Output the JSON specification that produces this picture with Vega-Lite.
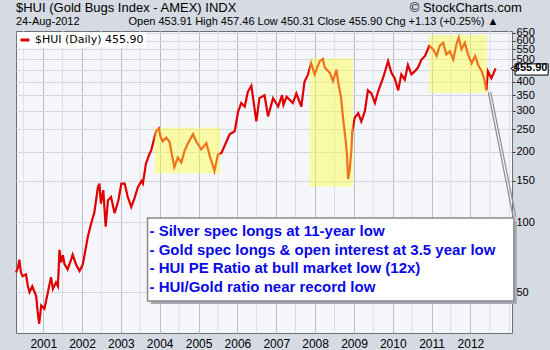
{
  "$schema": "https://vega.github.io/schema/vega-lite/v6.json",
  "width": 496,
  "height": 302,
  "autosize": {"type": "none"},
  "padding": {"left": 16, "top": 31, "right": 38, "bottom": 17},
  "background": "#d5dae3",
  "title": {
    "text": "$HUI (Gold Bugs Index - AMEX) INDX\u00a0\u00a0\u00a0\u00a0\u00a0\u00a0\u00a0\u00a0\u00a0\u00a0\u00a0\u00a0\u00a0\u00a0\u00a0\u00a0\u00a0\u00a0\u00a0\u00a0\u00a0\u00a0\u00a0\u00a0\u00a0\u00a0\u00a0\u00a0\u00a0\u00a0\u00a0\u00a0\u00a0\u00a0\u00a0\u00a0\u00a0\u00a0\u00a0\u00a0\u00a0\u00a0\u00a0\u00a0\u00a0\u00a0\u00a0\u00a0© StockCharts.com",
    "subtitle": "24-Aug-2012\u00a0\u00a0\u00a0\u00a0\u00a0\u00a0\u00a0\u00a0\u00a0\u00a0\u00a0\u00a0\u00a0\u00a0\u00a0\u00a0Open 453.91 High 457.46 Low 450.31 Close 455.90 Chg +1.13 (+0.25%) ▲",
    "anchor": "start",
    "frame": "group",
    "offset": 0,
    "font": "Liberation Sans",
    "fontSize": 13,
    "fontWeight": "normal",
    "color": "#000000",
    "subtitleFont": "Liberation Sans",
    "subtitleFontSize": 11,
    "subtitleColor": "#000000",
    "subtitlePadding": 1
  },
  "config": {
    "view": {"fill": "#f5f6fa", "stroke": "#6b6f78", "strokeWidth": 1},
    "legend": {
      "orient": "top-left",
      "offset": 1,
      "padding": 2,
      "fillColor": "#ffffff",
      "symbolType": "stroke",
      "symbolStrokeColor": "#000000",
      "symbolStrokeWidth": 3,
      "symbolSize": 80,
      "labelFont": "DejaVu Sans",
      "labelFontSize": 11,
      "labelColor": "#000000",
      "title": null
    }
  },
  "datasets": {
    "hui": [
      {"date": "2000-04-20", "v": 60.8}, {"date": "2000-05-10", "v": 64}, {"date": "2000-05-22", "v": 69}, {"date": "2000-06-05", "v": 61}, {"date": "2000-06-20", "v": 58.5},
      {"date": "2000-07-23", "v": 59.6}, {"date": "2000-08-10", "v": 53}, {"date": "2000-08-25", "v": 50}, {"date": "2000-09-20", "v": 53},
      {"date": "2000-10-27", "v": 48}, {"date": "2000-11-10", "v": 41}, {"date": "2000-11-24", "v": 36.6}, {"date": "2000-12-13", "v": 43.8},
      {"date": "2001-01-12", "v": 42.4}, {"date": "2001-02-14", "v": 50}, {"date": "2001-03-15", "v": 58},
      {"date": "2001-04-02", "v": 51.6}, {"date": "2001-05-01", "v": 55}, {"date": "2001-05-19", "v": 53},
      {"date": "2001-06-03", "v": 76}, {"date": "2001-06-18", "v": 67}, {"date": "2001-07-05", "v": 72}, {"date": "2001-07-20", "v": 66},
      {"date": "2001-08-18", "v": 62.6}, {"date": "2001-09-20", "v": 69}, {"date": "2001-10-05", "v": 72.5},
      {"date": "2001-11-06", "v": 65.7}, {"date": "2001-12-09", "v": 61.6}, {"date": "2002-01-08", "v": 65.7},
      {"date": "2002-01-23", "v": 71.6}, {"date": "2002-02-25", "v": 86.6}, {"date": "2002-03-29", "v": 99},
      {"date": "2002-04-27", "v": 110}, {"date": "2002-05-30", "v": 141}, {"date": "2002-06-13", "v": 146},
      {"date": "2002-06-28", "v": 120}, {"date": "2002-07-20", "v": 137}, {"date": "2002-08-11", "v": 95.5},
      {"date": "2002-09-02", "v": 124}, {"date": "2002-10-01", "v": 128}, {"date": "2002-11-03", "v": 109},
      {"date": "2002-12-09", "v": 124}, {"date": "2003-01-05", "v": 146}, {"date": "2003-02-06", "v": 146},
      {"date": "2003-03-07", "v": 128}, {"date": "2003-04-09", "v": 116}, {"date": "2003-05-08", "v": 126},
      {"date": "2003-06-10", "v": 141}, {"date": "2003-07-13", "v": 150}, {"date": "2003-07-27", "v": 146},
      {"date": "2003-08-25", "v": 178}, {"date": "2003-09-27", "v": 196}, {"date": "2003-10-12", "v": 202},
      {"date": "2003-11-28", "v": 245}, {"date": "2003-12-24", "v": 252}, {"date": "2004-01-10", "v": 232}, {"date": "2004-01-30", "v": 222},
      {"date": "2004-03-03", "v": 230}, {"date": "2004-04-01", "v": 222}, {"date": "2004-05-18", "v": 172},
      {"date": "2004-06-20", "v": 189}, {"date": "2004-07-23", "v": 180}, {"date": "2004-08-22", "v": 202},
      {"date": "2004-09-24", "v": 218}, {"date": "2004-11-10", "v": 238}, {"date": "2004-12-09", "v": 222},
      {"date": "2005-01-26", "v": 205}, {"date": "2005-03-15", "v": 218}, {"date": "2005-04-16", "v": 192},
      {"date": "2005-05-30", "v": 166}, {"date": "2005-07-02", "v": 195}, {"date": "2005-08-04", "v": 198},
      {"date": "2005-09-21", "v": 222}, {"date": "2005-10-20", "v": 238}, {"date": "2005-12-06", "v": 245},
      {"date": "2006-01-08", "v": 298}, {"date": "2006-02-06", "v": 324}, {"date": "2006-03-11", "v": 313},
      {"date": "2006-04-09", "v": 362}, {"date": "2006-05-12", "v": 385}, {"date": "2006-06-28", "v": 270},
      {"date": "2006-07-27", "v": 340}, {"date": "2006-09-13", "v": 350}, {"date": "2006-10-16", "v": 284},
      {"date": "2006-12-02", "v": 340}, {"date": "2007-01-19", "v": 313}, {"date": "2007-02-25", "v": 350}, {"date": "2007-03-10", "v": 318}, {"date": "2007-04-09", "v": 345},
      {"date": "2007-06-06", "v": 324}, {"date": "2007-07-09", "v": 356}, {"date": "2007-08-25", "v": 313},
      {"date": "2007-09-24", "v": 400}, {"date": "2007-10-27", "v": 430}, {"date": "2007-11-25", "v": 480},
      {"date": "2007-12-28", "v": 430}, {"date": "2008-02-14", "v": 490}, {"date": "2008-03-14", "v": 500},
      {"date": "2008-04-01", "v": 460}, {"date": "2008-05-19", "v": 436}, {"date": "2008-06-18", "v": 402},
      {"date": "2008-07-20", "v": 450}, {"date": "2008-08-04", "v": 402}, {"date": "2008-09-02", "v": 340},
      {"date": "2008-09-20", "v": 280}, {"date": "2008-10-16", "v": 222}, {"date": "2008-10-27", "v": 195},
      {"date": "2008-11-06", "v": 153}, {"date": "2008-11-21", "v": 166}, {"date": "2008-12-09", "v": 208},
      {"date": "2008-12-16", "v": 245}, {"date": "2009-01-08", "v": 280}, {"date": "2009-02-10", "v": 293},
      {"date": "2009-03-11", "v": 270}, {"date": "2009-04-13", "v": 298}, {"date": "2009-05-12", "v": 367},
      {"date": "2009-06-14", "v": 356}, {"date": "2009-07-17", "v": 324}, {"date": "2009-08-15", "v": 362},
      {"date": "2009-10-01", "v": 414}, {"date": "2009-11-18", "v": 490}, {"date": "2009-12-20", "v": 436},
      {"date": "2010-01-19", "v": 414}, {"date": "2010-02-21", "v": 367}, {"date": "2010-03-22", "v": 430},
      {"date": "2010-04-24", "v": 408}, {"date": "2010-05-23", "v": 472}, {"date": "2010-06-25", "v": 430},
      {"date": "2010-07-28", "v": 444}, {"date": "2010-08-26", "v": 460}, {"date": "2010-09-28", "v": 498},
      {"date": "2010-10-31", "v": 516}, {"date": "2010-12-10", "v": 570}, {"date": "2011-01-15", "v": 552},
      {"date": "2011-02-17", "v": 516}, {"date": "2011-03-18", "v": 570}, {"date": "2011-04-20", "v": 588},
      {"date": "2011-05-19", "v": 524}, {"date": "2011-06-21", "v": 540}, {"date": "2011-07-24", "v": 498},
      {"date": "2011-08-22", "v": 578}, {"date": "2011-09-13", "v": 618}, {"date": "2011-10-09", "v": 552},
      {"date": "2011-11-10", "v": 588}, {"date": "2011-12-09", "v": 524}, {"date": "2012-01-12", "v": 480},
      {"date": "2012-02-14", "v": 516}, {"date": "2012-03-14", "v": 472}, {"date": "2012-04-16", "v": 444},
      {"date": "2012-05-08", "v": 414}, {"date": "2012-05-30", "v": 367}, {"date": "2012-06-13", "v": 444},
      {"date": "2012-07-16", "v": 414}, {"date": "2012-08-07", "v": 436}, {"date": "2012-08-24", "v": 455.9}
    ],
    "halfgrid": [
      {"date": "2000-07-01"}, {"date": "2001-07-01"}, {"date": "2002-07-01"}, {"date": "2003-07-01"},
      {"date": "2004-07-01"}, {"date": "2005-07-01"}, {"date": "2006-07-01"}, {"date": "2007-07-01"},
      {"date": "2008-07-01"}, {"date": "2009-07-01"}, {"date": "2010-07-01"}, {"date": "2011-07-01"},
      {"date": "2012-07-01"}, {"date": "2013-01-01"}
    ],
    "boxes": [
      {"start": "2003-11-14", "end": "2005-07-24", "top": 254, "bottom": 162},
      {"start": "2007-11-10", "end": "2008-12-24", "top": 504, "bottom": 142},
      {"start": "2010-12-09", "end": "2012-06-02", "top": 635, "bottom": 359}
    ],
    "callout": [
      {"start": "2012-06-17", "end": "2013-02-06", "top": 361, "bottom": 105},
      {"start": "2012-07-10", "end": "2013-03-03", "top": 361, "bottom": 105}
    ],
    "shadow": [
      {"start": "2003-10-08", "end": "2013-03-14", "top": 101, "bottom": 44.5}
    ],
    "notebox": [
      {"start": "2003-09-09", "end": "2013-02-13", "top": 104, "bottom": 45.8}
    ],
    "notes": [
      {"date": "2003-09-27", "v": 91.3, "label": "- Silver spec longs at 11-year low"},
      {"date": "2003-09-27", "v": 75.7, "label": "- Gold spec longs & open interest at 3.5 year low"},
      {"date": "2003-09-27", "v": 63.4, "label": "- HUI PE Ratio at bull market low (12x)"},
      {"date": "2003-09-27", "v": 52.5, "label": "- HUI/Gold ratio near record low"}
    ],
    "marker": [
      {"start": "2013-02-24", "end": "2014-01-01", "top": 477, "bottom": 427, "date": "2013-07-20", "tip": "2013-02-10", "v": 455.9, "label": "455.90"}
    ]
  },
  "layer": [
    {
      "data": {"name": "halfgrid"},
      "mark": {"type": "rule", "color": "#dcdee5", "strokeWidth": 1},
      "encoding": {
        "x": {
          "field": "date", "type": "temporal", "title": null,
          "scale": {"type": "utc", "domain": [{"year": 2000, "month": 4, "date": 20, "utc": true}, {"year": 2013, "month": 1, "date": 26, "utc": true}]},
          "axis": {
            "values": [
              {"year": 2001, "month": 1, "date": 1, "utc": true}, {"year": 2002, "month": 1, "date": 1, "utc": true},
              {"year": 2003, "month": 1, "date": 1, "utc": true}, {"year": 2004, "month": 1, "date": 1, "utc": true},
              {"year": 2005, "month": 1, "date": 1, "utc": true}, {"year": 2006, "month": 1, "date": 1, "utc": true},
              {"year": 2007, "month": 1, "date": 1, "utc": true}, {"year": 2008, "month": 1, "date": 1, "utc": true},
              {"year": 2009, "month": 1, "date": 1, "utc": true}, {"year": 2010, "month": 1, "date": 1, "utc": true},
              {"year": 2011, "month": 1, "date": 1, "utc": true}, {"year": 2012, "month": 1, "date": 1, "utc": true}
            ],
            "format": "%Y",
            "grid": true,
            "gridColor": "#bcbfc7",
            "ticks": false,
            "domain": false,
            "labelFont": "Liberation Sans",
            "labelFontSize": 12,
            "labelColor": "#000000",
            "labelPadding": 5,
            "labelOverlap": false,
            "labelFlush": false
          }
        }
      }
    },
    {
      "data": {"name": "hui"},
      "mark": {"type": "line", "strokeWidth": 2.2},
      "encoding": {
        "x": {"field": "date", "type": "temporal", "title": null},
        "y": {
          "field": "v", "type": "quantitative", "title": null,
          "scale": {"type": "log", "domain": [33.4, 660], "nice": false},
          "axis": {
            "orient": "right",
            "values": [50, 100, 150, 200, 250, 300, 350, 400, 450, 500, 550, 600, 650],
            "grid": true,
            "gridColor": "#d3d6de",
            "domain": false,
            "tickSize": 3,
            "tickColor": "#333333",
            "labelFont": "Liberation Sans",
            "labelFontSize": 11,
            "labelColor": "#000000",
            "labelPadding": 1,
            "labelOverlap": false,
            "labelBound": false
          }
        },
        "color": {"datum": "$HUI (Daily) 455.90", "type": "nominal", "scale": {"range": ["#e00000"]}}
      }
    },
    {
      "data": {"name": "boxes"},
      "mark": {"type": "rect", "fill": "#ffff40", "opacity": 0.45},
      "encoding": {
        "x": {"field": "start", "type": "temporal", "title": null},
        "x2": {"field": "end"},
        "y": {"field": "top", "type": "quantitative", "title": null},
        "y2": {"field": "bottom"}
      }
    },
    {
      "data": {"name": "callout"},
      "mark": {"type": "rule", "color": "#8c8c8c", "strokeWidth": 1.2},
      "encoding": {
        "x": {"field": "start", "type": "temporal", "title": null},
        "x2": {"field": "end"},
        "y": {"field": "top", "type": "quantitative", "title": null},
        "y2": {"field": "bottom"}
      }
    },
    {
      "data": {"name": "shadow"},
      "mark": {"type": "rect", "fill": "#a7abb3"},
      "encoding": {
        "x": {"field": "start", "type": "temporal", "title": null},
        "x2": {"field": "end"},
        "y": {"field": "top", "type": "quantitative", "title": null},
        "y2": {"field": "bottom"}
      }
    },
    {
      "data": {"name": "notebox"},
      "mark": {"type": "rect", "fill": "#ffffff", "stroke": "#8a8a8a", "strokeWidth": 1.5},
      "encoding": {
        "x": {"field": "start", "type": "temporal", "title": null},
        "x2": {"field": "end"},
        "y": {"field": "top", "type": "quantitative", "title": null},
        "y2": {"field": "bottom"}
      }
    },
    {
      "data": {"name": "notes"},
      "mark": {"type": "text", "align": "left", "baseline": "middle", "font": "Liberation Sans", "fontSize": 15, "fontWeight": "bold", "color": "#0a0ae6"},
      "encoding": {
        "x": {"field": "date", "type": "temporal", "title": null},
        "y": {"field": "v", "type": "quantitative", "title": null},
        "text": {"field": "label"}
      }
    },
    {
      "data": {"name": "marker"},
      "mark": {"type": "rect", "fill": "#ffffff", "stroke": "#000000", "strokeWidth": 1},
      "encoding": {
        "x": {"field": "start", "type": "temporal", "title": null},
        "x2": {"field": "end"},
        "y": {"field": "top", "type": "quantitative", "title": null},
        "y2": {"field": "bottom"}
      }
    },
    {
      "data": {"name": "marker"},
      "mark": {"type": "point", "shape": "triangle-left", "size": 40, "filled": true, "fill": "#ffffff", "stroke": "#000000", "strokeWidth": 1, "opacity": 1},
      "encoding": {
        "x": {"field": "tip", "type": "temporal", "title": null},
        "y": {"field": "v", "type": "quantitative", "title": null}
      }
    },
    {
      "data": {"name": "marker"},
      "mark": {"type": "text", "align": "center", "baseline": "middle", "font": "Liberation Sans", "fontSize": 11, "fontWeight": "bold", "color": "#000000"},
      "encoding": {
        "x": {"field": "date", "type": "temporal", "title": null},
        "y": {"field": "v", "type": "quantitative", "title": null},
        "text": {"field": "label"}
      }
    }
  ]
}
